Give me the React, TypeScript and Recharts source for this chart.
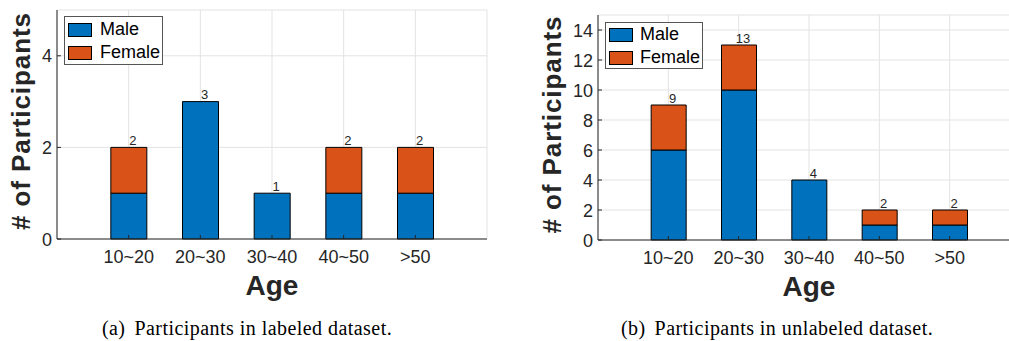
import React from 'react';
import { BarChart, Bar, XAxis, YAxis, CartesianGrid, LabelList, Label, Legend } from 'recharts';

const categories = ['10~20', '20~30', '30~40', '40~50', '>50'];
const labeledMale = [1, 3, 1, 1, 1];
const labeledFemale = [1, 0, 0, 1, 1];
const unlabeledMale = [6, 10, 4, 1, 1];
const unlabeledFemale = [3, 3, 0, 1, 1];
const labeledYTicks = [0, 2, 4];
const unlabeledYTicks = [0, 2, 4, 6, 8, 10, 12, 14];
const xTicks = [1, 2, 3, 4, 5];
const seriesNames = ['Male', 'Female'];
const seriesColors = ['#0072BD', '#D95319'];

const build = (male: number[], female: number[]) =>
  categories.map((c, i) => ({ x: i + 1, cat: c, male: male[i], female: female[i], total: male[i] + female[i] }));

const labeledData = build(labeledMale, labeledFemale);
const unlabeledData = build(unlabeledMale, unlabeledFemale);

const AX = '#262626';
const SANS = '"Liberation Sans", Arial, Helvetica, sans-serif';

const BottomTick = (props: any) => {
  const { x, y, payload } = props;
  return (
    <g>
      <line x1={x} x2={x} y1={y} y2={y - 4} stroke={AX} strokeWidth={1} />
      <text x={x} y={y + 24} textAnchor="middle" fontSize={18} fontFamily={SANS} fill={AX}>
        {categories[payload.value - 1]}
      </text>
    </g>
  );
};
const TopTick = (props: any) => {
  const { x, y } = props;
  return <line x1={x} x2={x} y1={y} y2={y + 4} stroke={AX} strokeWidth={1} />;
};
const LeftTick = (props: any) => {
  const { x, y, payload } = props;
  return (
    <g>
      <line x1={x} x2={x + 4} y1={y} y2={y} stroke={AX} strokeWidth={1} />
      <text x={x - 5} y={y + 6.5} textAnchor="end" fontSize={18} fontFamily={SANS} fill={AX}>
        {payload.value}
      </text>
    </g>
  );
};
const RightTick = (props: any) => {
  const { x, y } = props;
  return <line x1={x} x2={x - 4} y1={y} y2={y} stroke={AX} strokeWidth={1} />;
};

// Label for the stack total, attached to the Male segment: the segment's own
// pixel height / value gives the scale used to reach the top of the stack.
const makeTotalLabel = (data: any[]) => (props: any) => {
  const { x, y, width, height, index } = props;
  const d = data[index];
  if (!d || !d.male) return null;
  const scale = height / d.male;
  const top = y + height - d.total * scale;
  return (
    <text x={x + width / 2 + 4} y={top - 2.5} textAnchor="middle" fontSize={13} fontFamily={SANS} fill={AX}>
      {d.total}
    </text>
  );
};

const makeLegend = (w: number, h: number, swLeft: number, rowTops: number[], textLeft: number) => (props: any) => {
  const payload = [...(props.payload || [])].sort(
    (a: any, b: any) => seriesNames.indexOf(a.value) - seriesNames.indexOf(b.value)
  );
  return (
    <div style={{ position: 'relative', width: w, height: h, boxSizing: 'border-box', border: '1px solid #555', background: '#fff' }}>
      {payload.map((p: any, i: number) => (
        <React.Fragment key={i}>
          <div
            style={{
              position: 'absolute',
              left: swLeft,
              top: rowTops[i],
              width: 24,
              height: 14,
              boxSizing: 'border-box',
              border: '1px solid #000',
              background: p.color,
            }}
          />
          <div
            style={{
              position: 'absolute',
              left: textLeft,
              top: rowTops[i] - 4,
              fontSize: 18,
              lineHeight: '20px',
              fontFamily: SANS,
              color: '#000',
              whiteSpace: 'nowrap',
            }}
          >
            {p.value}
          </div>
        </React.Fragment>
      ))}
    </div>
  );
};

const YLabel = (cx: number, cy: number, len: number) => () => (
  <text
    transform={`translate(${cx},${cy}) rotate(-90)`}
    textAnchor="middle"
    fontSize={26}
    fontWeight="bold"
    fontFamily={SANS}
    fill={AX}
    textLength={len}
    lengthAdjust="spacing"
  >
    # of Participants
  </text>
);

type PanelProps = {
  data: any[];
  yMax: number;
  yTicks: number[];
  width: number;
  yAxisWidth: number;
  marginTop: number;
  marginRight: number;
  barSize: number;
  xAxisHeight: number;
  ageOffset: number;
  yLabelX: number;
  yLabelY: number;
  legend: { left: number; top: number; w: number; h: number; sw: number; rows: number[]; text: number };
};

const Panel = (p: PanelProps) => (
  <BarChart
    width={p.width}
    height={312}
    data={p.data}
    margin={{ top: p.marginTop, right: p.marginRight, bottom: 0, left: 0 }}
    barGap={0}
  >
    <CartesianGrid stroke="#e3e3e3" strokeWidth={1} />
    <Bar dataKey="male" name={seriesNames[0]} stackId="s" fill={seriesColors[0]} stroke="#000" strokeWidth={1} barSize={p.barSize} isAnimationActive={false}>
      <LabelList dataKey="total" content={makeTotalLabel(p.data)} />
    </Bar>
    <Bar dataKey="female" name={seriesNames[1]} stackId="s" fill={seriesColors[1]} stroke="#000" strokeWidth={1} barSize={p.barSize} isAnimationActive={false} />
    <XAxis
      dataKey="x"
      type="number"
      domain={[0, 6]}
      ticks={xTicks}
      interval={0}
      height={p.xAxisHeight}
      tickSize={0}
      tickMargin={0}
      tickLine={false}
      axisLine={{ stroke: AX }}
      tick={<BottomTick />}
    >
      <Label value="Age" position="insideBottom" offset={p.ageOffset} fontSize={28} fontWeight="bold" fontFamily={SANS} fill={AX} />
    </XAxis>
    <XAxis
      xAxisId="top"
      orientation="top"
      dataKey="x"
      type="number"
      domain={[0, 6]}
      ticks={xTicks}
      interval={0}
      height={0}
      tickSize={0}
      tickMargin={0}
      tickLine={false}
      axisLine={{ stroke: '#444' }}
      tick={<TopTick />}
    />
    <YAxis
      type="number"
      domain={[0, p.yMax]}
      ticks={p.yTicks}
      interval={0}
      width={p.yAxisWidth}
      tickSize={0}
      tickMargin={0}
      tickLine={false}
      axisLine={{ stroke: AX }}
      tick={<LeftTick />}
    >
      <Label content={YLabel(p.yLabelX, p.yLabelY, 217)} />
    </YAxis>
    <YAxis
      yAxisId="right"
      orientation="right"
      type="number"
      domain={[0, p.yMax]}
      ticks={p.yTicks}
      interval={0}
      width={0}
      tickSize={0}
      tickMargin={0}
      tickLine={false}
      axisLine={{ stroke: '#444' }}
      tick={<RightTick />}
    />
    <Legend
      layout="vertical"
      align="center"
      verticalAlign="middle"
      wrapperStyle={{ left: p.legend.left, top: p.legend.top, width: p.legend.w, height: p.legend.h }}
      content={makeLegend(p.legend.w, p.legend.h, p.legend.sw, p.legend.rows, p.legend.text)}
    />
  </BarChart>
);

const captionStyle: React.CSSProperties = {
  position: 'absolute',
  top: 316,
  fontFamily: '"Liberation Serif", "Times New Roman", serif',
  fontSize: 20,
  lineHeight: '24px',
  color: '#000',
  whiteSpace: 'nowrap',
  letterSpacing: '0.45px',
  transform: 'translateX(-50%)',
};

export default function App() {
  return (
    <div style={{ position: 'absolute', left: 0, top: 0, width: 1009, height: 341, overflow: 'hidden', background: '#fff' }}>
      <div style={{ position: 'absolute', left: 0, top: 0 }}>
        <Panel
          data={labeledData}
          yMax={5}
          yTicks={labeledYTicks}
          width={500}
          yAxisWidth={57}
          marginTop={10}
          marginRight={13}
          barSize={36}
          xAxisHeight={73}
          ageOffset={17}
          yLabelX={30}
          yLabelY={121.5}
          legend={{ left: 64, top: 16, w: 99, h: 49, sw: 3, rows: [6, 29], text: 35 }}
        />
      </div>
      <div style={{ position: 'absolute', left: 520, top: 0 }}>
        <Panel
          data={unlabeledData}
          yMax={15}
          yTicks={unlabeledYTicks}
          width={510}
          yAxisWidth={78}
          marginTop={15}
          marginRight={10}
          barSize={35}
          xAxisHeight={72}
          ageOffset={16}
          yLabelX={41}
          yLabelY={125}
          legend={{ left: 85, top: 22, w: 98, h: 47, sw: 3, rows: [5, 28], text: 34 }}
        />
      </div>
      <div style={{ ...captionStyle, left: 247 }}>
        <span style={{ marginRight: 9 }}>(a)</span>Participants in labeled dataset.
      </div>
      <div style={{ ...captionStyle, left: 777 }}>
        <span style={{ marginRight: 9 }}>(b)</span>Participants in unlabeled dataset.
      </div>
    </div>
  );
}
